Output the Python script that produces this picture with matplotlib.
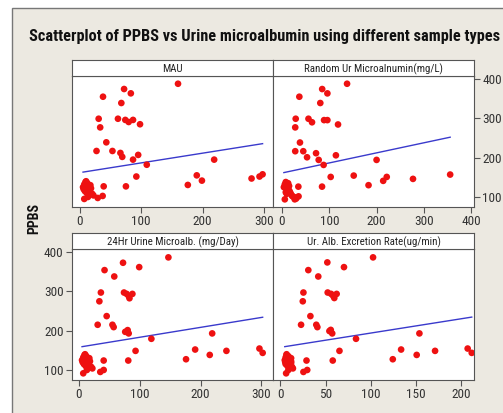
import numpy as np
import matplotlib
matplotlib.use('Agg')
import matplotlib.pyplot as plt
from matplotlib.patches import Rectangle
from matplotlib import font_manager

# colors
Beige = '#ece9e1'
Frame = '#555555'
Dot = '#ee1111'
Fit = '#3a3acc'

# pick a narrow face if one is installed, otherwise shrink the text
fonts = font_manager.fontManager.ttflist
narrow = None
for f in fonts:
    if ('Narrow' in f.name or 'Condensed' in f.name) and f.name.split()[0] in ('Liberation', 'Roboto', 'Open', 'Noto', 'DejaVu'):
        narrow = (f.name, 'normal')
        break
if narrow is None:
    for f in fonts:
        if f.name in ('DejaVu Sans', 'Noto Sans', 'Roboto', 'Open Sans') and str(f.stretch) in ('condensed', 'semi-condensed', '500', '400', '375'):
            narrow = (f.name, str(f.stretch))
            break
if narrow is None:
    Family, Stretch, k = 'DejaVu Sans', 'normal', 0.82
else:
    Family, Stretch, k = narrow[0], narrow[1], 1.0
plt.rcParams['font.family'] = [Family, 'DejaVu Sans']
plt.rcParams['font.stretch'] = Stretch

# data (x = urine measure, y = PPBS)
mau_x = [160, 72, 83, 37.6, 67.5, 30.5, 62, 74, 79.5, 86.6, 98, 33, 43, 27, 53, 66, 69, 95,
         86.6, 109, 219, 92, 190.6, 199, 176, 280, 293, 298, 75, 38.7, 37, 29, 7,
         5, 7, 9, 10, 12, 13, 15, 16, 8, 11, 14, 18, 20, 22, 10, 13, 17, 6]
mau_y = [388, 374.6, 363.6, 355, 339, 299, 299, 296, 290.7, 296, 285, 277, 239, 217, 217, 212, 202, 207,
         195, 182, 195, 152, 155, 141.6, 130.6, 147, 152, 157.6, 127, 127, 102.6, 97.5, 95,
         125, 132, 138, 128, 135, 120, 126, 118, 115, 110, 112, 122, 108, 104, 140, 100, 130, 120]

rand_x = [137.6, 85, 96, 36.7, 81, 29, 56, 89, 96, 63.5, 118.5, 28, 38, 28, 45, 72, 53, 77.6,
          114, 88, 200, 103, 151.7, 221.5, 214, 183, 277, 355.6, 84.7, 34.6, 35, 27, 6,
          4, 6, 8, 10, 12, 14, 16, 18, 20, 10, 13, 22, 25, 28, 8, 15, 30]
rand_y = [388, 374.5, 363.5, 355, 339, 299, 299, 295.5, 295.5, 290, 284.4, 277, 238.5, 216.4, 216.4, 211.3, 201, 194.3,
          206, 181.5, 194.3, 151, 154.4, 151, 141, 130, 146, 157, 126.3, 126.3, 101.6, 94, 94,
          125, 132, 138, 128, 122, 118, 115, 110, 105, 108, 135, 102, 100, 98, 112, 128, 96]

day_x = [147, 72.4, 99, 42, 58, 36, 33.5, 74, 78.4, 81.7, 83, 87.8, 45.5, 30.7, 55, 57, 76, 80,
         81.7, 119, 219, 93, 191, 215, 176, 242.4, 296.7, 302, 81, 40.6, 40.6, 35, 7,
         5, 7, 9, 10, 12, 13, 15, 16, 8, 11, 14, 18, 20, 22, 10, 13, 17, 6]
day_y = [386.4, 372.7, 361.6, 354, 337.8, 297, 274.7, 297, 293.5, 288.3, 282.4, 293.5, 237, 215, 215, 209, 197, 201.4,
         193, 179.3, 193, 148.6, 152, 138.3, 127.3, 148.6, 154.5, 143.5, 124, 124, 100, 95, 91.5,
         125, 132, 138, 128, 135, 120, 126, 118, 115, 110, 112, 122, 108, 104, 140, 100, 130, 120]

rate_x = [102.5, 52, 70.4, 31, 42, 25.6, 24.9, 52.4, 56.2, 58.5, 59.7, 62.3, 33.3, 23, 39.8, 41, 54.3, 55.8,
          57.4, 83.7, 153.7, 65.4, 133.5, 150.7, 124.3, 171, 207, 211.5, 58, 29, 29.8, 25.6, 6.5,
          5, 6, 7, 8, 9, 10, 11, 12, 6, 8, 10, 12, 13, 14, 7, 9, 12, 5.5]
rate_y = [386.4, 373.6, 361.6, 354, 337.8, 297, 274.7, 297, 293.5, 288.3, 283, 293.5, 237, 215, 215, 209, 199, 202,
          193, 179.3, 193, 148.6, 152, 138.3, 127.3, 148.6, 154.5, 143.5, 124, 124, 100, 95, 91.5,
          125, 132, 138, 128, 135, 120, 126, 118, 115, 110, 112, 122, 108, 104, 140, 100, 130, 120]

# fitted line (intercept, slope) per panel
fits = [(162, 0.247), (161, 0.256), (158, 0.252), (157.5, 0.364)]

titles = ['MAU', 'Random Ur Microalnumin(mg/L)', '24Hr Urine Microalb. (mg/Day)',
          'Ur. Alb. Excretion Rate(ug/min)']
xs = [mau_x, rand_x, day_x, rate_x]
ys = [mau_y, rand_y, day_y, rate_y]
xticks = [[0, 100, 200, 300], [0, 100, 200, 300, 400], [0, 100, 200, 300], [0, 50, 100, 150, 200]]
xlims = [(-13, 315), (-19, 406), (-11.5, 319), (-8, 214)]
yticks = [100, 200, 300, 400]

W, H = 503, 413
fig = plt.figure(figsize=(W/100, H/100), dpi=100)
fig.patch.set_facecolor('white')
fig.patches.append(Rectangle((12/W, -0.2), 1.2, 1.2 - 8/H, transform=fig.transFigure,
                             facecolor=Beige, edgecolor='#777777', linewidth=1.0, zorder=-10))

fig.text(265/W, 1 - 37/H, 'Scatterplot of PPBS vs Urine microalbumin using different sample types',
         ha='center', va='center', fontsize=11.7*k*(0.92 if narrow is None else 1), fontweight='bold',
         color='#111111')
fig.text(34/W, 1 - 219/H, 'PPBS', rotation=90, ha='center', va='center',
         fontsize=10*k, fontweight='bold', color='#111111')

lefts = [72, 273]
tops = [76, 249]
pw, ph = 201, 131
sh = 16

for i in range(4):
    r, c = divmod(i, 2)
    x0 = lefts[c] / W
    y0 = 1 - (tops[r] + ph) / H
    ax = fig.add_axes([x0, y0, pw/W, ph/H])
    sx = fig.add_axes([x0, 1 - tops[r]/H, pw/W, sh/H])
    sx.set_xticks([])
    sx.set_yticks([])
    sx.text(0.5, 0.45, titles[i], ha='center', va='center', fontsize=7.8*k, color='#222222')
    for s in sx.spines.values():
        s.set_color(Frame)

    ax.scatter(xs[i], ys[i], s=23, color=Dot, edgecolors='none', zorder=3)
    b, m = fits[i]
    xl = np.array([min(xs[i]), max(xs[i])])
    ax.plot(xl, b + m*xl, color=Fit, linewidth=1.0, zorder=2)

    ax.set_xlim(*xlims[i])
    ax.set_ylim(74.5, 407.7)
    for s in ax.spines.values():
        s.set_color(Frame)
    ax.set_xticks(xticks[i])
    ax.tick_params(axis='both', direction='out', length=4, width=0.8, colors=Frame,
                   labelsize=9.5*k, labelcolor='#333333', pad=2)
    ax.set_yticks(yticks)
    if i == 1:
        ax.yaxis.tick_right()
    elif i == 2:
        ax.yaxis.tick_left()
    else:
        ax.tick_params(axis='y', left=False, right=False, labelleft=False, labelright=False)

fig.savefig('out.png', dpi=100, facecolor=fig.get_facecolor())
